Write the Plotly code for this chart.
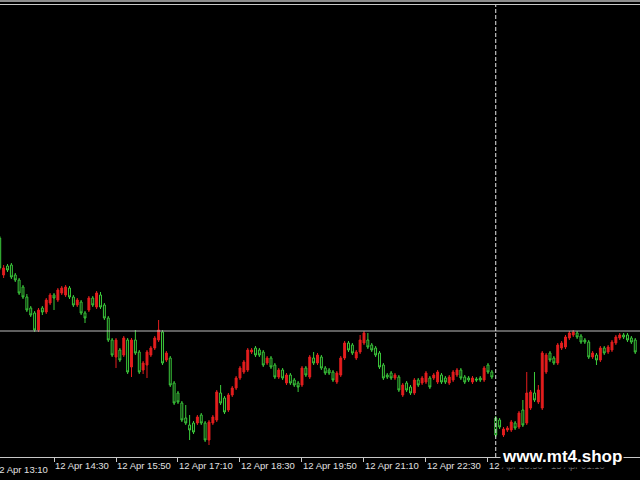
import plotly.graph_objects as go

# ---- data (M5 bars, prices in points) ----
bar_index = list(range(2, 167))
opens = [242,205,214,215,205,200,193,183,172,167,150,172,168,177,185,180,187,185,192,183,
         175,178,167,170,182,173,185,175,162,140,123,130,125,140,113,140,128,110,115,125,
         132,140,148,120,122,97,87,77,62,55,57,57,65,57,40,57,60,87,82,70,
         85,92,102,108,110,128,132,130,128,117,122,115,103,110,97,105,100,97,95,112,
         103,122,117,123,112,110,108,98,105,122,137,135,122,128,137,140,135,132,127,115,
         105,107,102,103,85,97,93,87,100,97,98,102,102,98,105,102,97,100,105,110,
         103,102,98,101,102,100,115,108,62,60,45,50,50,57,53,70,57,72,87,78,
         72,108,127,122,117,132,133,142,145,147,144,140,138,123,125,120,132,128,130,137,
         142,145,145,142,140]
highs = [244,215,216,217,207,202,195,186,174,169,172,174,182,187,187,192,194,195,194,185,
         182,180,169,184,184,189,188,177,164,142,142,132,144,142,142,150,130,119,130,134,
         144,160,150,129,124,99,89,79,75,65,59,65,67,59,60,65,90,95,84,87,
         94,104,114,120,132,132,134,132,130,124,124,117,112,112,107,107,102,99,114,114,
         125,128,127,125,114,112,110,109,124,139,139,137,130,145,149,147,137,134,129,117,
         107,109,107,105,97,99,95,102,102,104,109,104,107,110,107,104,105,110,112,112,
         105,104,104,103,104,114,117,110,64,62,53,54,60,59,69,80,108,90,108,95,
         129,127,129,124,137,139,145,149,150,149,146,142,140,129,127,134,134,135,140,145,
         147,147,147,144,142]
lows = [210,202,208,201,198,185,181,168,163,148,148,165,166,175,170,178,185,183,181,173,
        173,165,157,168,173,171,171,160,138,123,112,118,123,106,103,125,106,106,102,123,
        130,138,115,118,93,75,76,58,55,40,46,55,55,38,35,55,58,75,66,68,
        83,90,100,106,108,126,123,123,113,115,111,101,101,100,95,95,93,88,93,103,
        101,115,115,110,105,105,98,96,103,120,128,125,120,126,135,131,128,123,111,100,
        101,100,100,88,83,88,85,85,93,95,96,91,100,96,96,96,95,98,103,100,
        96,98,96,98,98,98,106,101,43,51,43,48,48,50,51,53,55,70,78,76,
        70,106,118,115,115,130,131,140,143,141,136,136,121,121,115,118,125,126,128,135,
        140,141,138,136,126]
closes = [212,212,210,203,200,187,183,170,165,150,170,168,180,185,182,190,192,193,183,175,
          180,167,162,182,175,187,173,162,140,125,140,120,142,108,140,127,108,117,128,132,
          142,150,117,127,95,77,78,60,57,50,48,63,57,40,58,63,88,77,68,85,
          92,102,112,118,130,130,125,125,115,122,113,103,110,102,105,97,95,93,112,105,
          123,117,125,112,107,107,100,107,122,137,130,127,128,140,147,133,130,125,113,102,
          103,102,105,90,95,90,87,100,95,102,107,93,105,108,98,98,103,108,110,102,
          98,100,102,100,100,112,108,103,45,53,51,52,58,52,67,55,87,88,80,90,
          127,125,120,117,135,137,143,147,148,143,138,138,123,127,120,132,127,133,138,143,
          145,143,140,138,128]

tick_index = [16, 32, 48, 64, 80, 96, 112, 128, 144, 160]
tick_text = ["12 Apr 14:30", "12 Apr 15:50", "12 Apr 17:10", "12 Apr 18:30",
             "12 Apr 19:50", "12 Apr 21:10", "12 Apr 22:30",
             "12 <span style='color:#707070'>Apr 23:50</span>",
             "<span style='color:#707070'>15 Apr 01:10</span>",
             "<span style='color:#808080'>15 Apr 02:30</span>"]
first_label = "12 Apr 13:10"
price_line = 149          # horizontal line level
separator_index = 130     # day separator (15 Apr 00:00)

GREEN = "#3ccc3c"
RED = "#e41e1e"

fig = go.Figure(go.Candlestick(
    x=bar_index, open=opens, high=highs, low=lows, close=closes,
    increasing=dict(line=dict(color=RED, width=1), fillcolor=RED),
    decreasing=dict(line=dict(color=GREEN, width=1), fillcolor="black"),
    whiskerwidth=0, hoverinfo="skip", showlegend=False,
))

fig.add_hline(y=price_line, line=dict(color="#bdbdbd", width=1))
fig.add_vline(x=separator_index, line=dict(color="#e8e8e8", width=1, dash="4px,2px"))

# top grey frame band
fig.add_shape(type="rect", xref="paper", yref="paper", x0=0, x1=1,
              y0=1 + 3 / 452, y1=1 + 5.5 / 452, fillcolor="#8c8c8c", line_width=0)

fig.add_annotation(text=first_label, xref="paper", yref="paper",
                   x=-8 / 640, y=-5 / 452, xanchor="left", yanchor="top",
                   showarrow=False, font=dict(family="Liberation Sans", size=9.5, color="#e0e0e0"))

fig.add_annotation(text="www.mt4.shop", xref="paper", yref="paper",
                   x=562 / 640, y=1 / 452, xanchor="center", yanchor="middle",
                   showarrow=False, bgcolor="black", borderpad=1,
                   font=dict(family="Liberation Sans", size=17, color="white", weight=700))

fig.update_layout(
    width=640, height=480, template="none",
    paper_bgcolor="black", plot_bgcolor="black",
    margin=dict(l=0, r=0, t=5, b=23, autoexpand=False),
    showlegend=False,
    xaxis=dict(range=[2.065, 167.23], showgrid=False, zeroline=False,
               showline=True, linecolor="#c8c8c8", linewidth=1, mirror=True,
               ticks="outside", ticklen=4, tickcolor="#c8c8c8",
               tickvals=tick_index, ticktext=tick_text, tickangle=0,
               ticklabelposition="outside right",
               tickfont=dict(family="Liberation Sans", size=9.5, color="#e0e0e0"),
               rangeslider=dict(visible=False), automargin=False, fixedrange=True),
    yaxis=dict(range=[23, 475], visible=False, showgrid=False, zeroline=False,
               automargin=False, fixedrange=True),
)

fig.write_html("out.html", config={"displayModeBar": False},
               post_script="document.body.style.margin='0';document.body.style.background='black';")
